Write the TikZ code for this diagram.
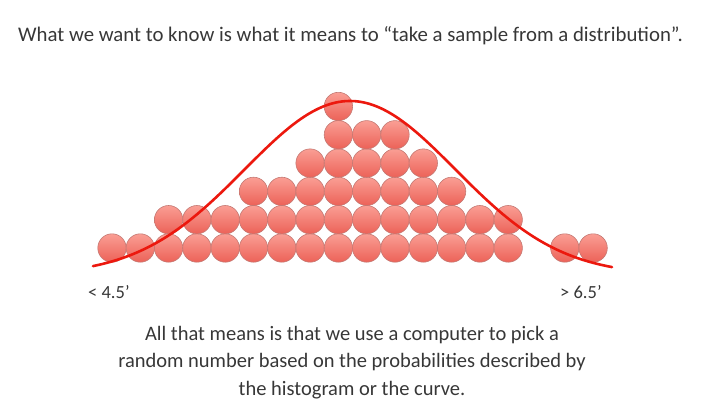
\documentclass[tikz,border=0pt]{standalone}
\usepackage{fontspec}
\setmainfont{Carlito}
\usepackage{tikz}

\definecolor{ballTop}{RGB}{250,158,148}
\definecolor{ballBot}{RGB}{236,98,88}
\definecolor{ballEdge}{RGB}{196,120,114}
\definecolor{curveRed}{RGB}{236,24,14}
\definecolor{textGray}{RGB}{55,55,55}

\tikzset{
  ball/.style={draw=ballEdge, line width=0.6, top color=ballTop, bottom color=ballBot},
  txt/.style={text=textGray, inner sep=0pt},
}

\begin{document}
\begin{tikzpicture}[x=1pt,y=1pt,yscale=-1,xscale=1]
\useasboundingbox (0,0) rectangle (710,407);
% Balls
\foreach \c/\h in {0/1,1/1,2/2,3/2,4/2,5/3,6/3,7/4,8/6,9/5,10/5,11/4,12/3,13/2,14/2,16/1,17/1}
  \foreach \r in {1,...,\h}
    \draw [ball] ({112+28.3*\c},{248-28.3*(\r-1)}) circle (14.2);
% Curve Lines
\draw [curveRed, line width=2.6, line cap=round] plot [domain=93:612, samples=120, smooth]
  (\x, {275-174*exp(-0.5*((\x-350)/105.4)^2)});
% Text Node
\node [txt, anchor=base west, font=\fontsize{20.8}{24}\selectfont] (title) at (18,41.7)
  {What we want to know is what it means to “take a sample from a distribution”.};
% Text Node
\node [txt, anchor=base west, font=\fontsize{18.5}{22}\selectfont] (low) at (88,298) {< 4.5’};
% Text Node
\node [txt, anchor=base west, font=\fontsize{18.5}{22}\selectfont] (high) at (560,298) {> 6.5’};
% Text Node
\node [txt, anchor=north, align=center, font=\fontsize{20.5}{27.5}\selectfont] (note) at (352,326)
  {All that means is that we use a computer to pick a\\random number based on the probabilities described by\\the histogram or the curve.};
\end{tikzpicture}
\end{document}
